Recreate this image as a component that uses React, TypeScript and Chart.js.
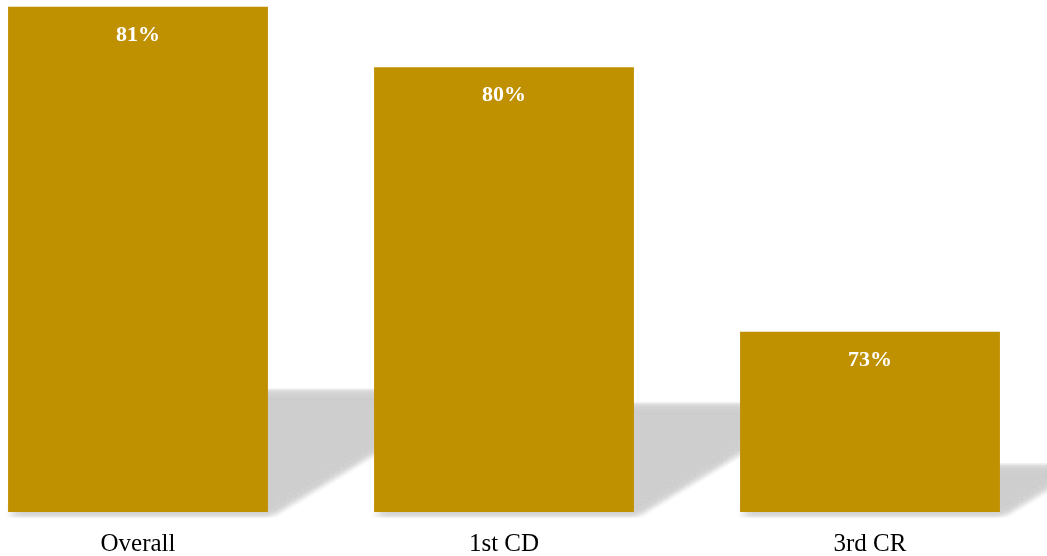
import React, { useEffect, useRef } from "react";
import { Chart, registerables } from "chart.js";

Chart.register(...registerables);

const categories = ["Overall", "1st CD", "3rd CR"];
const values = [81.32, 79.73, 72.75];
const valueLabels = ["81%", "80%", "73%"];
const yMin = 68;
const yMax = 81.5;

function shadowPath(ctx: any, x: number, top: number, base: number, w: number, dx: number, dy: number) {
  const h = base - top;
  const left = x - w / 2 + dx;
  const right = x + w / 2 + dx;
  const sh = 0.23 * h;
  const off = 0.38 * h;
  ctx.beginPath();
  ctx.moveTo(left, base + dy);
  ctx.lineTo(right, base + dy);
  ctx.lineTo(right + off, base - sh + dy);
  ctx.lineTo(left + off, base - sh + dy);
  ctx.closePath();
}

const decorPlugin = {
  id: "decor",
  afterDatasetsDraw(chart: any) {
    const ctx = chart.ctx;
    const meta = chart.getDatasetMeta(0);
    const xs = chart.scales.x;
    const ys = chart.scales.y;
    const base = ys.getPixelForValue(yMin);
    ctx.save();
    ctx.globalCompositeOperation = "destination-over";
    ctx.fillStyle = "rgb(205,205,205)";
    ctx.globalAlpha = 0.06;
    const r = 4;
    const step = 1.6;
    values.forEach((v, i) => {
      const x = xs.getPixelForValue(i);
      const top = ys.getPixelForValue(v);
      const w = meta.data[i] && meta.data[i].width ? meta.data[i].width : 260;
      for (let dx = -r; dx <= r; dx++) {
        for (let dy = -r; dy <= r; dy++) {
          shadowPath(ctx, x, top, base - 1, w, dx * step + 3, dy * step);
          ctx.fill();
        }
      }
    });
    ctx.restore();

    ctx.save();
    ctx.fillStyle = "#ffffff";
    ctx.font = "bold 22px 'Liberation Serif', serif";
    ctx.textAlign = "center";
    ctx.textBaseline = "middle";
    values.forEach((v, i) => {
      ctx.fillText(valueLabels[i], xs.getPixelForValue(i), ys.getPixelForValue(v) + 28);
    });
    ctx.restore();
  },
};

export default function App() {
  const ref = useRef<HTMLCanvasElement>(null);
  useEffect(() => {
    if (!ref.current) return;
    const chart = new Chart(ref.current, {
      type: "bar",
      data: {
        labels: categories,
        datasets: [
          {
            data: values,
            backgroundColor: "#BF9000",
            borderWidth: 0,
            barPercentage: 0.71,
            categoryPercentage: 1,
          },
        ],
      },
      options: {
        responsive: false,
        animation: false,
        layout: { padding: 0 },
        plugins: { legend: { display: false }, tooltip: { enabled: false } },
        scales: {
          x: {
            grid: { display: false },
            border: { display: false },
            ticks: {
              color: "#000000",
              font: { family: "'Liberation Serif', serif", size: 25 },
              padding: 9,
            },
            afterFit: (s: any) => {
              s.height = 44;
            },
          },
          y: {
            display: false,
            min: yMin,
            max: yMax,
          },
        },
      },
      plugins: [decorPlugin],
    });
    return () => chart.destroy();
  }, []);
  return (
    <div style={{ position: "fixed", left: 0, top: 0, width: 1047, height: 556, overflow: "hidden", background: "#fff" }}>
      <canvas ref={ref} width={1098} height={556} style={{ position: "absolute", left: -45, top: 0 }} />
    </div>
  );
}
